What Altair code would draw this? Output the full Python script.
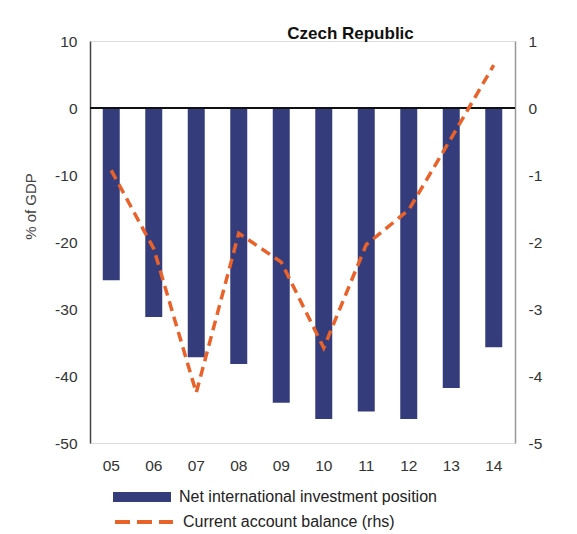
import altair as alt
import pandas as pd

years = ["05", "06", "07", "08", "09", "10", "11", "12", "13", "14"]
niip = [-25.7, -31.2, -37.2, -38.2, -44.0, -46.4, -45.3, -46.4, -41.8, -35.7]
ca = [-0.93, -2.1, -4.25, -1.87, -2.3, -3.58, -2.04, -1.52, -0.45, 0.64]
bar_label = "Net international investment position"
line_label = "Current account balance (rhs)"

df = pd.DataFrame({"year": years, "niip": niip, "ca": ca,
                   "s1": bar_label, "s2": line_label})

FONT = "Liberation Sans"
NAVY = "#343C7C"
ORANGE = "#E8622A"
LBL = "'' + datum.value"

x_enc = alt.X("year:N", sort=years, title=None,
              scale=alt.Scale(paddingInner=0.6, paddingOuter=0.3),
              axis=alt.Axis(domain=False, ticks=False, labelPadding=15,
                            labelFontSize=15.5, labelColor="#333", labelFont=FONT,
                            labelAngle=0))

bars = alt.Chart(df).mark_bar(color=NAVY).encode(
    x=x_enc,
    y=alt.Y("niip:Q", scale=alt.Scale(domain=[-50, 10], nice=False),
            axis=alt.Axis(values=list(range(-50, 11, 10)), grid=False, ticks=False,
                          domainColor="#444", domainWidth=1.5, labelPadding=13,
                          labelExpr=LBL,
                          labelFontSize=15.5, labelColor="#333", labelFont=FONT,
                          title="% of GDP", titleFontSize=15, titleFont=FONT,
                          titleFontWeight="normal", titleColor="#444",
                          titleAngle=270, titleAlign="center", titleBaseline="middle",
                          titleX=-60, titleY=165)),
    color=alt.Color("s1:N", scale=alt.Scale(domain=[bar_label], range=[NAVY]),
                    legend=alt.Legend(title=None, orient="none", legendX=23, legendY=427,
                                      symbolType="M-1,-0.17H1V0.17H-1Z", symbolSize=3364,
                                      symbolStrokeWidth=0, labelFontSize=16, labelLimit=0,
                                      labelFont=FONT, labelColor="#222", labelOffset=8)),
)

zero = alt.Chart(df).mark_rule(color="#111", strokeWidth=1.3).encode(
    y=alt.datum(0)
)

line = alt.Chart(df).mark_line(strokeWidth=3.5, strokeDash=[10, 6]).encode(
    x=alt.X("year:N", sort=years),
    y=alt.Y("ca:Q", scale=alt.Scale(domain=[-5, 1], nice=False),
            axis=alt.Axis(orient="right", values=list(range(-5, 2)), grid=False,
                          ticks=False, domainColor="#999", domainWidth=1.5,
                          labelPadding=13, labelFontSize=15.5, labelColor="#333",
                          labelExpr=LBL,
                          labelFont=FONT, title=None)),
    stroke=alt.Stroke("s2:N", scale=alt.Scale(domain=[line_label], range=[ORANGE]),
                      legend=alt.Legend(title=None, orient="none", legendX=23, legendY=450,
                                        symbolType="stroke", symbolSize=3364,
                                        symbolStrokeWidth=4, symbolDash=[15, 7],
                                        labelFontSize=16, labelFont=FONT, labelLimit=0,
                                        labelColor="#222", labelOffset=8)),
)

chart = alt.layer(alt.layer(bars, zero), line).resolve_scale(
    y="independent", color="independent", stroke="independent"
).properties(
    width=425, height=402,
    autosize=alt.AutoSizeParams(type="none"),
    padding={"left": 82, "top": 33, "right": 50, "bottom": 90},
    title=alt.TitleParams("Czech Republic", font=FONT, fontSize=17, fontWeight="bold",
                          color="#111", anchor="middle", dx=48, offset=-9),
).configure_view(stroke=None).configure(background="white")

chart.save("out.html", embed_options={"renderer": "svg", "actions": False})
